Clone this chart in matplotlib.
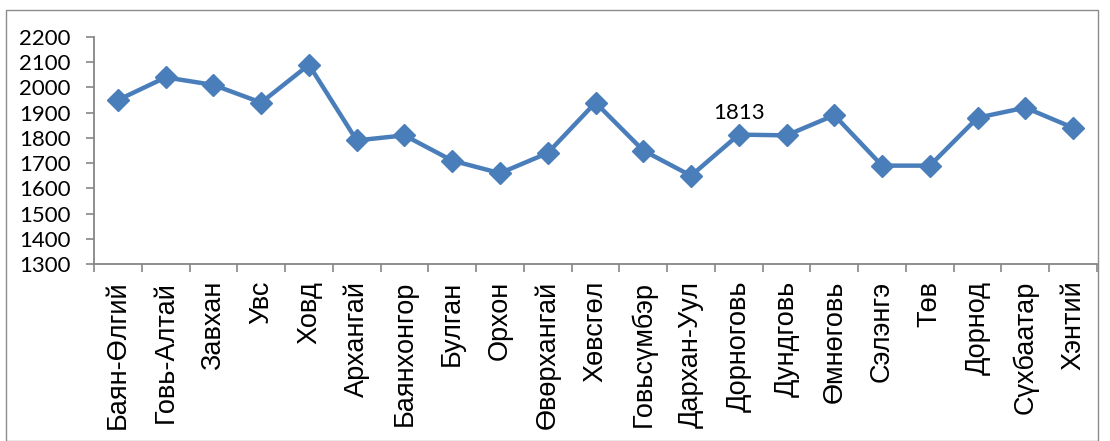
import matplotlib
matplotlib.use("Agg")
import matplotlib.pyplot as plt
from matplotlib.patches import Rectangle
import numpy as np

categories = ["Баян-Өлгий", "Говь-Алтай", "Завхан", "Увс", "Ховд", "Архангай",
              "Баянхонгор", "Булган", "Орхон", "Өвөрхангай", "Хөвсгөл", "Говьсүмбэр",
              "Дархан-Уул", "Дорноговь", "Дундговь", "Өмнөговь", "Сэлэнгэ", "Төв",
              "Дорнод", "Сүхбаатар", "Хэнтий"]
values = [1950, 2040, 2010, 1940, 2090, 1790, 1810, 1710, 1660, 1740, 1940, 1750,
          1650, 1813, 1810, 1890, 1690, 1690, 1880, 1920, 1840]
yticks = [1300, 1400, 1500, 1600, 1700, 1800, 1900, 2000, 2100, 2200]
label_index = 13

W, H = 1110, 441
fig = plt.figure(figsize=(W / 100, H / 100), dpi=100)
ax = fig.add_axes([94 / W, 1 - 264 / H, (1097 - 94) / W, (264 - 37) / H])

fig.patches.append(Rectangle((6 / W, 0.0), (1098 - 6) / W, (H - 10) / H - 0.0,
                             transform=fig.transFigure, fill=False,
                             edgecolor="#8c8c8c", linewidth=1.0))

x = np.arange(len(categories))
color = "#4A7EBB"
ax.plot(x, values, color=color, linewidth=3.2, marker="D", markersize=11,
        markerfacecolor=color, markeredgecolor=color, solid_joinstyle="round")

ax.annotate(str(values[label_index]), (x[label_index], values[label_index]),
            xytext=(0, 8), textcoords="offset points", ha="center", va="bottom",
            fontsize=16, family="Lato", color="black")

ax.set_xlim(-0.5, len(categories) - 0.5)
ax.set_ylim(1300, 2200)
ax.set_yticks(yticks)
ax.set_yticklabels([str(v) for v in yticks], family="Lato", fontsize=16)
ax.set_xticks(x)
ax.set_xticklabels(categories, rotation=90, family="Liberation Sans", fontsize=19.5,
                   va="top", ha="center")
ax.set_xticks(np.arange(-0.5, len(categories)), minor=True)

gray = "#868686"
for s in ["top", "right"]:
    ax.spines[s].set_visible(False)
for s in ["left", "bottom"]:
    ax.spines[s].set_color(gray)
    ax.spines[s].set_linewidth(1.3)

ax.tick_params(axis="x", which="major", length=0, pad=12)
ax.tick_params(axis="x", which="minor", length=6, color=gray, width=1.2)
ax.tick_params(axis="y", length=6, color=gray, width=1.2, pad=11)

fig.savefig("out.png", dpi=100)
